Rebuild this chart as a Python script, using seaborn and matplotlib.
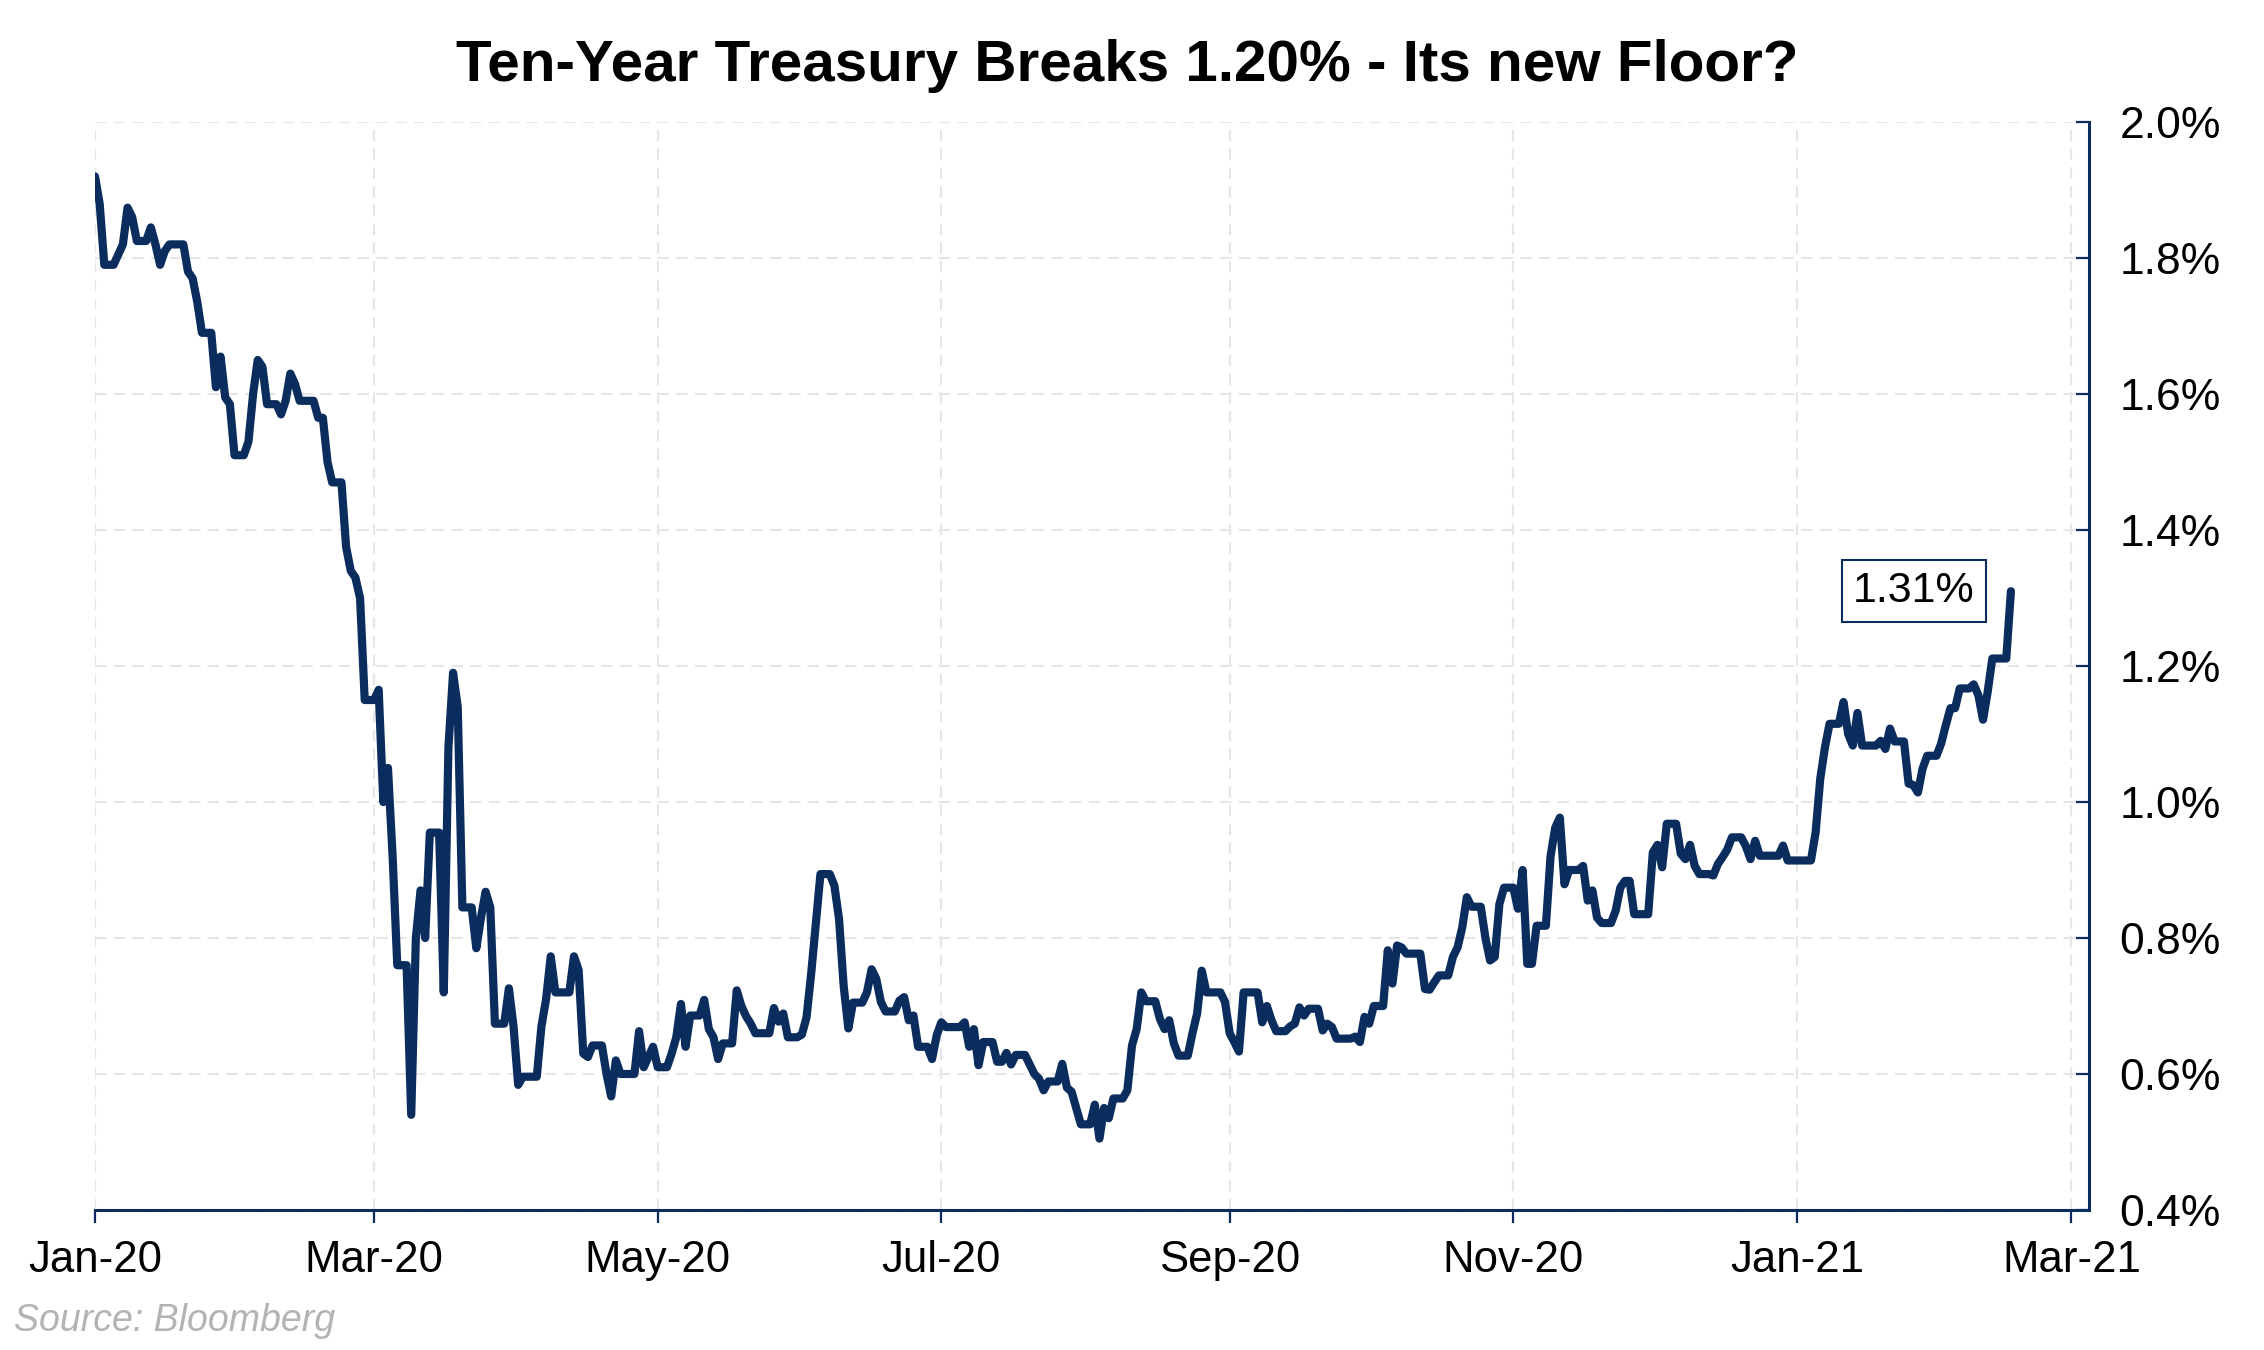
import numpy as np
import pandas as pd
import matplotlib
matplotlib.use("Agg")
import matplotlib.pyplot as plt
import matplotlib.dates as mdates
from matplotlib.ticker import FuncFormatter
import seaborn as sns

# ---------------- data (10-year Treasury yield, %, one row per trading week Mon-Fri) ----
start_date = "2020-01-01"          # first row starts on Wed 1 Jan 2020
yields_by_week = [
    [1.92, 1.88, 1.79],                       # 2020-01-01 (Wed-Fri)
    [1.805, 1.82, 1.874, 1.86, 1.825],        # Jan 06
    [1.845, 1.82, 1.79, 1.81, 1.82],          # Jan 13
    [1.82, 1.78, 1.77, 1.735, 1.69],          # Jan 20
    [1.61, 1.655, 1.595, 1.585, 1.51],        # Jan 27
    [1.53, 1.60, 1.65, 1.64, 1.585],          # Feb 03
    [1.57, 1.59, 1.63, 1.615, 1.59],          # Feb 10
    [1.59, 1.565, 1.565, 1.50, 1.47],         # Feb 17
    [1.375, 1.34, 1.33, 1.30, 1.15],          # Feb 24
    [1.165, 1.00, 1.05, 0.92, 0.76],          # Mar 02
    [0.54, 0.80, 0.87, 0.80, 0.955],          # Mar 09
    [0.72, 1.08, 1.19, 1.14, 0.845],          # Mar 16
    [0.785, 0.83, 0.868, 0.845, 0.674],       # Mar 23
    [0.726, 0.67, 0.584, 0.596, 0.596],       # Mar 30
    [0.67, 0.71, 0.773, 0.72, 0.72],          # Apr 06
    [0.773, 0.753, 0.63, 0.625, 0.642],       # Apr 13
    [0.60, 0.567, 0.62, 0.60, 0.60],          # Apr 20
    [0.663, 0.61, 0.625, 0.64, 0.61],         # Apr 27
    [0.63, 0.654, 0.703, 0.64, 0.686],        # May 04
    [0.709, 0.666, 0.654, 0.622, 0.645],      # May 11
    [0.723, 0.70, 0.685, 0.674, 0.66],        # May 18
    [0.66, 0.697, 0.677, 0.689, 0.654],       # May 25
    [0.658, 0.683, 0.747, 0.82, 0.894],       # Jun 01
    [0.877, 0.828, 0.729, 0.667, 0.705],      # Jun 08
    [0.72, 0.754, 0.74, 0.706, 0.692],        # Jun 15
    [0.708, 0.713, 0.679, 0.686, 0.64],       # Jun 22
    [0.622, 0.657, 0.676, 0.669, 0.669],      # Jun 29
    [0.676, 0.64, 0.666, 0.613, 0.647],       # Jul 06
    [0.618, 0.618, 0.631, 0.614, 0.628],      # Jul 13
    [0.614, 0.60, 0.593, 0.576, 0.589],       # Jul 20
    [0.615, 0.58, 0.574, 0.55, 0.526],        # Jul 27
    [0.555, 0.505, 0.55, 0.535, 0.564],       # Aug 03
    [0.576, 0.642, 0.666, 0.72, 0.707],       # Aug 10
    [0.681, 0.666, 0.679, 0.645, 0.627],      # Aug 17
    [0.66, 0.689, 0.752, 0.72, 0.72],         # Aug 24
    [0.706, 0.66, 0.647, 0.633, 0.72],        # Aug 31
    [0.72, 0.676, 0.70, 0.679, 0.663],        # Sep 07
    [0.67, 0.674, 0.698, 0.686, 0.696],       # Sep 14
    [0.664, 0.674, 0.669, 0.652, 0.652],      # Sep 21
    [0.655, 0.647, 0.684, 0.674, 0.70],       # Sep 28
    [0.782, 0.733, 0.789, 0.786, 0.777],      # Oct 05
    [0.777, 0.725, 0.724, 0.735, 0.745],      # Oct 12
    [0.772, 0.786, 0.815, 0.86, 0.846],       # Oct 19
    [0.80, 0.767, 0.772, 0.85, 0.874],        # Oct 26
    [0.843, 0.90, 0.762, 0.762, 0.818],       # Nov 02
    [0.92, 0.962, 0.977, 0.879, 0.90],        # Nov 09
    [0.906, 0.855, 0.87, 0.83, 0.822],        # Nov 16
    [0.84, 0.874, 0.884, 0.884, 0.835],       # Nov 23
    [0.835, 0.926, 0.937, 0.904, 0.968],      # Nov 30
    [0.924, 0.916, 0.937, 0.906, 0.894],      # Dec 07
    [0.892, 0.909, 0.919, 0.93, 0.948],       # Dec 14
    [0.935, 0.916, 0.943, 0.921, 0.921],      # Dec 21
    [0.921, 0.936, 0.914, 0.914, 0.914],      # Dec 28
    [0.914, 0.955, 1.034, 1.08, 1.115],       # 2021 Jan 04
    [1.147, 1.10, 1.083, 1.131, 1.083],       # Jan 11
    [1.083, 1.09, 1.078, 1.108, 1.089],       # Jan 18
    [1.027, 1.025, 1.014, 1.049, 1.068],      # Jan 25
    [1.086, 1.113, 1.138, 1.138, 1.167],      # Feb 01
    [1.173, 1.157, 1.121, 1.162, 1.211],      # Feb 08
    [1.211, 1.31],                            # Feb 15 (Mon-Tue)
]
y_ticks = [0.4, 0.6, 0.8, 1.0, 1.2, 1.4, 1.6, 1.8, 2.0]
x_end = "2021-03-04 19:00"

title = "Ten-Year Treasury Breaks 1.20% - Its new Floor?"
source = "Source: Bloomberg"

NAVY = "#0a2d5e"
GRID = "#e6e6e6"

# ---------------- build series ----------------
values = [v for week in yields_by_week for v in week]
bdates = pd.bdate_range(start_date, periods=len(values))
s = pd.Series(values, index=bdates).asfreq("D").ffill()
df = pd.DataFrame({"date": s.index, "yield": s.values})

# ---------------- plot ----------------
sns.set_style("white")
plt.rcParams["font.family"] = ["Liberation Sans", "DejaVu Sans"]

W, H = 2264, 1350
fig = plt.figure(figsize=(W / 100, H / 100), dpi=100)
ax = fig.add_axes([95 / W, 1 - 1210 / H, (2089 - 95) / W, (1210 - 122) / H])

sns.lineplot(data=df, x="date", y="yield", color=NAVY, linewidth=5.9, ax=ax,
             zorder=3, solid_joinstyle="round")

ax.set_xlim(pd.Timestamp(start_date), pd.Timestamp(x_end))
ax.set_ylim(y_ticks[0], y_ticks[-1])
ax.set_yticks(y_ticks)
ax.yaxis.set_major_formatter(FuncFormatter(lambda v, _: f"{v:.1f}%"))
ax.xaxis.set_major_locator(mdates.MonthLocator(bymonth=[1, 3, 5, 7, 9, 11]))
ax.xaxis.set_major_formatter(mdates.DateFormatter("%b-%y"))

ax.yaxis.tick_right()
ax.yaxis.set_label_position("right")
ax.set_xlabel("")
ax.set_ylabel("")

ax.grid(True, color=GRID, linestyle=(0, (5.5, 3.5)), linewidth=1.5, zorder=0)

for side in ["left", "top"]:
    ax.spines[side].set_visible(False)
for side in ["right", "bottom"]:
    ax.spines[side].set_visible(True)
    ax.spines[side].set_color(NAVY)
    ax.spines[side].set_linewidth(2.2)

ax.tick_params(axis="x", direction="out", length=9.5, width=1.6, color=NAVY,
               labelsize=31.5, pad=12, labelcolor="black", bottom=True)
ax.tick_params(axis="y", direction="in", length=9.5, width=1.6, color=NAVY,
               labelsize=32, pad=22, labelcolor="black", right=True, left=False)

last_date = s.index[-1]
last_val = s.values[-1]
ax.annotate(f"{last_val:.2f}%", xy=(last_date, last_val), xytext=(-70, 0),
            textcoords="offset points", ha="center", va="center", fontsize=31,
            color="black",
            bbox=dict(boxstyle="square,pad=0.26", fc="white", ec=NAVY, lw=1.5),
            zorder=5)

fig.text(0.498, 1 - 66 / H, title, ha="center", va="center", fontsize=42,
         fontweight="bold", color="black")
fig.text(14 / W, 1 - 1321 / H, source, ha="left", va="center", fontsize=27,
         style="italic", color="#b3b3b3")

fig.savefig("out.png", dpi=100, facecolor="white")
